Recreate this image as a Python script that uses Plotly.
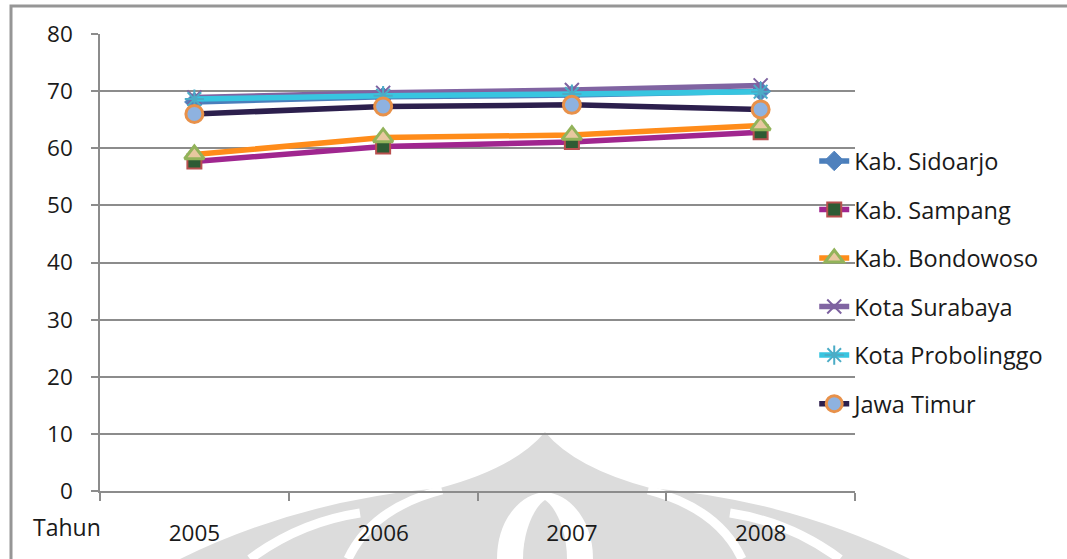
import plotly.graph_objects as go

# Angka harapan hidup per daerah, 2005-2008
years = ["2005", "2006", "2007", "2008"]
sidoarjo = [68.1, 69.0, 69.3, 70.0]
sampang = [57.7, 60.3, 61.1, 62.8]
bondowoso = [58.9, 61.9, 62.3, 64.0]
surabaya = [68.9, 69.7, 70.2, 71.0]
probolinggo = [68.6, 69.2, 69.5, 69.9]
jawa_timur = [66.0, 67.3, 67.6, 66.8]

series_names = ["Kab. Sidoarjo", "Kab. Sampang", "Kab. Bondowoso",
                "Kota Surabaya", "Kota Probolinggo", "Jawa Timur"]
series_values = [sidoarjo, sampang, bondowoso, surabaya, probolinggo, jawa_timur]
x_title = "Tahun"
y_ticks = [0, 10, 20, 30, 40, 50, 60, 70, 80]

FONT = "Open Sans"
TEXT = "#1a1a1a"
AXIS = "#8c8c8c"

styles = [
    dict(line="#4a7ebb", symbol="diamond", size=15, fill="#4f81bd", edge="#4f81bd", ew=1),
    dict(line="#a0268f", symbol="square", size=14, fill="#2e5b34", edge="#b9504f", ew=2),
    dict(line="#ff8c1a", symbol="triangle-up", size=17, fill="#e8c8a0", edge="#92b35a", ew=3),
    dict(line="#8064a2", symbol="x-thin-open", size=14, fill="#7d62a0", edge="#7d62a0", ew=2),
    dict(line="#38c5e0", symbol="asterisk-open", size=16, fill="#4bacc6", edge="#4bacc6", ew=2),
    dict(line="#2c1f4d", symbol="circle", size=17, fill="#8eb2e0", edge="#e8914a", ew=3),
]

fig = go.Figure()
for name, vals, st in zip(series_names, series_values, styles):
    fig.add_trace(go.Scatter(
        x=years, y=vals, name=name, mode="lines+markers", legendgroup=name,
        line=dict(color=st["line"], width=5.5),
        marker=dict(symbol=st["symbol"], size=st["size"], color=st["fill"],
                    line=dict(color=st["edge"], width=st["ew"])),
        hoverinfo="x+y+name",
    ))

# plot area in pixels: x 100..855, y 34..491
L, R, T, B = 100, 855, 34, 491


def px(x, y):
    return f"{(x - L) / (R - L):.5f},{(B - y) / (B - T):.5f}"


def path(cmds):
    out = []
    for c in cmds:
        if isinstance(c, str):
            out.append(c)
        else:
            out.append(px(*c))
    return " ".join(out)


shapes = []
# faint emblem in the page background
gray = "#dcdcdc"
shapes.append(dict(type="path", xref="paper", yref="paper", layer="below",
                   path=path(["M", (180, 559), "Q", (300, 500), (440, 488),
                              "Q", (515, 468), (545, 432),
                              "Q", (575, 468), (650, 488),
                              "Q", (790, 500), (910, 559), "Z"]),
                   fillcolor=gray, line=dict(width=0)))
for d in (["M", (348, 559), "Q", (372, 508), (442, 490)],
          ["M", (742, 559), "Q", (718, 508), (648, 490)],
          ["M", (250, 559), "Q", (300, 522), (360, 513)],
          ["M", (840, 559), "Q", (790, 522), (730, 513)]):
    shapes.append(dict(type="path", xref="paper", yref="paper", layer="below",
                       path=path(d), line=dict(color="white", width=9)))
shapes.append(dict(type="path", xref="paper", yref="paper", layer="below",
                   path=path(["M", (497, 559), "C", (497, 520), (520, 494), (545, 492),
                              "C", (570, 494), (593, 520), (593, 559), "Z"]),
                   fillcolor="white", line=dict(width=0)))
shapes.append(dict(type="path", xref="paper", yref="paper", layer="below",
                   path=path(["M", (523, 559), "C", (523, 530), (535, 506), (545, 500),
                              "C", (555, 506), (567, 530), (567, 559), "Z"]),
                   fillcolor=gray, line=dict(width=0)))

# chart frame (top and left edges)
shapes.append(dict(type="path", xref="paper", yref="paper", layer="above",
                   path=path(["M", (11, 559), "L", (11, 6), "L", (1067, 6)]),
                   line=dict(color="#969696", width=3)))

fig.update_layout(
    width=1067, height=559, autosize=False,
    margin=dict(l=L, r=1067 - R, t=T, b=559 - B, pad=0),
    paper_bgcolor="white", plot_bgcolor="rgba(0,0,0,0)",
    font=dict(family=FONT, size=22, color=TEXT),
    showlegend=True,
    legend=dict(x=0.946, xanchor="left", y=0.77, yanchor="top",
                font=dict(size=23.5, color=TEXT), tracegroupgap=15,
                bgcolor="rgba(0,0,0,0)", borderwidth=0),
    shapes=shapes,
    annotations=[dict(text=x_title, xref="paper", yref="paper",
                      x=(67 - L) / (R - L), y=(B - 527) / (B - T),
                      xanchor="center", yanchor="middle", showarrow=False,
                      font=dict(size=23, color=TEXT))],
)

fig.update_xaxes(
    type="category", categoryorder="array", categoryarray=years,
    range=[-0.5, 3.5], showline=True, linecolor=AXIS, linewidth=1.5,
    ticks="outside", tickson="boundaries", ticklen=8, tickcolor=AXIS, tickwidth=1.5,
    showgrid=False, zeroline=False, ticklabelstandoff=21,
    tickfont=dict(size=22.5, color=TEXT),
)
fig.update_yaxes(
    range=[0, 80], tickvals=y_ticks, showline=True, linecolor=AXIS, linewidth=1.5,
    ticks="outside", ticklen=7, tickcolor=AXIS, tickwidth=1.5,
    showgrid=True, gridcolor=AXIS, gridwidth=1.5, zeroline=False,
    ticklabelstandoff=14, tickfont=dict(size=22.5, color=TEXT),
)

fig.write_html("out.html")
